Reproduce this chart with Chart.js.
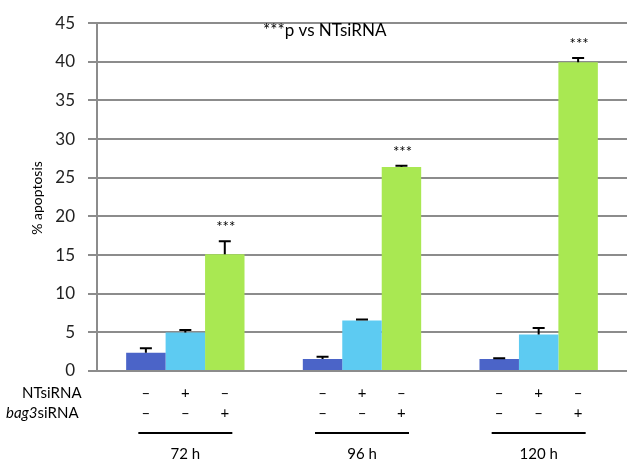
<!DOCTYPE html>
<html>
<head>
<meta charset="utf-8">
<script src="https://cdn.jsdelivr.net/npm/chart.js@4/dist/chart.umd.min.js"></script>
<style>
  html, body { margin: 0; padding: 0; background: #fff; }
  #wrap { width: 632px; height: 463px; }
</style>
</head>
<body>
<div id="wrap"><canvas id="c" width="632" height="463"></canvas></div>
<script>
// Time points after transfection
const categories = ['72 h', '96 h', '120 h'];

// Mean % apoptosis per group, with upper error (SD)
const untreated     = [2.35, 1.55, 1.55];
const untreatedErr  = [0.6, 0.3, 0.1];
const ntSiRNA       = [4.97, 6.53, 4.72];
const ntSiRNAErr    = [0.34, 0.12, 0.85];
const bag3SiRNA     = [15.1, 26.4, 39.95];
const bag3SiRNAErr  = [1.7, 0.15, 0.55];

// Significance marks over the bag3 siRNA bars
const significance = ['***', '***', '***'];

// Treatment rows printed under each bar (untreated, NT siRNA, bag3 siRNA)
const ntRow   = ['–', '+', '–'];
const bag3Row = ['–', '–', '+'];

// Y axis ticks
const yTicks = [0, 5, 10, 15, 20, 25, 30, 35, 40, 45];

const colors = ['#4B64C8', '#5DCBF2', '#A9E852'];
const FONT = 'Lato, "Open Sans", "Liberation Sans", sans-serif';

const errorSets = [untreatedErr, ntSiRNAErr, bag3SiRNAErr];

const overlay = {
  id: 'overlay',
  afterDatasetsDraw(chart) {
    const ctx = chart.ctx;
    const y = chart.scales.y;
    ctx.save();

    // error bars (upper only)
    ctx.strokeStyle = '#000';
    ctx.lineWidth = 2;
    chart.data.datasets.forEach((ds, di) => {
      const meta = chart.getDatasetMeta(di);
      meta.data.forEach((bar, i) => {
        const top = y.getPixelForValue(ds.data[i]);
        const errTop = y.getPixelForValue(ds.data[i] + errorSets[di][i]);
        ctx.beginPath();
        ctx.moveTo(bar.x, top);
        ctx.lineTo(bar.x, errTop);
        ctx.moveTo(bar.x - 6, errTop);
        ctx.lineTo(bar.x + 6, errTop);
        ctx.stroke();
      });
    });

    // significance marks
    const gMeta = chart.getDatasetMeta(2);
    ctx.fillStyle = '#000';
    ctx.font = '15px ' + FONT;
    ctx.textAlign = 'center';
    ctx.textBaseline = 'middle';
    gMeta.data.forEach((bar, i) => {
      const errTop = y.getPixelForValue(bag3SiRNA[i] + bag3SiRNAErr[i]);
      ctx.fillText(significance[i], bar.x + 1, errTop - 14);
    });

    // legend note
    ctx.font = '17px ' + FONT;
    ctx.textAlign = 'left';
    ctx.fillText('***p vs NTsiRNA', 263, 31);

    // y axis title
    ctx.save();
    ctx.translate(37, 198);
    ctx.rotate(-Math.PI / 2);
    ctx.font = '14px ' + FONT;
    ctx.textAlign = 'center';
    ctx.fillText('% apoptosis', 0, 0);
    ctx.restore();

    // treatment rows
    ctx.font = '15px ' + FONT;
    ctx.textAlign = 'left';
    ctx.fillText('NTsiRNA', 22, 393);
    ctx.font = 'italic 15px ' + FONT;
    const bw = ctx.measureText('bag3').width;
    ctx.fillText('bag3', 6, 413);
    ctx.font = '15px ' + FONT;
    ctx.fillText('siRNA', 6 + bw, 413);

    ctx.textAlign = 'center';
    for (let g = 0; g < categories.length; g++) {
      for (let d = 0; d < 3; d++) {
        const bx = chart.getDatasetMeta(d).data[g].x;
        ctx.fillText(ntRow[d], bx, 393);
        ctx.fillText(bag3Row[d], bx, 413);
      }
    }

    // time point brackets and labels
    const x = chart.scales.x;
    ctx.lineWidth = 2;
    ctx.font = '15px ' + FONT;
    categories.forEach((c, i) => {
      const cx = x.getPixelForValue(i);
      ctx.beginPath();
      ctx.moveTo(cx - 47, 433);
      ctx.lineTo(cx + 47, 433);
      ctx.stroke();
      ctx.fillText(c, cx, 454);
    });

    ctx.restore();
  }
};

new Chart(document.getElementById('c'), {
  type: 'bar',
  data: {
    labels: categories,
    datasets: [
      { label: 'untreated', data: untreated, backgroundColor: colors[0] },
      { label: 'NTsiRNA', data: ntSiRNA, backgroundColor: colors[1] },
      { label: 'bag3siRNA', data: bag3SiRNA, backgroundColor: colors[2] }
    ]
  },
  options: {
    responsive: false,
    animation: false,
    devicePixelRatio: 1,
    layout: { padding: { top: 15, right: 5, bottom: 92, left: 0 } },
    plugins: { legend: { display: false }, tooltip: { enabled: false } },
    datasets: { bar: { categoryPercentage: 0.67, barPercentage: 1.0 } },
    scales: {
      x: {
        display: false
      },
      y: {
        min: 0,
        max: 45,
        afterBuildTicks(scale) { scale.ticks = yTicks.map(v => ({ value: v })); },
        afterFit(scale) { scale.width = 97; },
        grid: { color: '#8c8c8c', lineWidth: 2, tickLength: 9, drawTicks: true },
        border: { color: '#8c8c8c', width: 2 },
        ticks: {
          padding: 13,
          color: '#222',
          font: { family: FONT, size: 17 },
          callback: v => String(v)
        }
      }
    }
  },
  plugins: [overlay]
});
</script>
</body>
</html>
